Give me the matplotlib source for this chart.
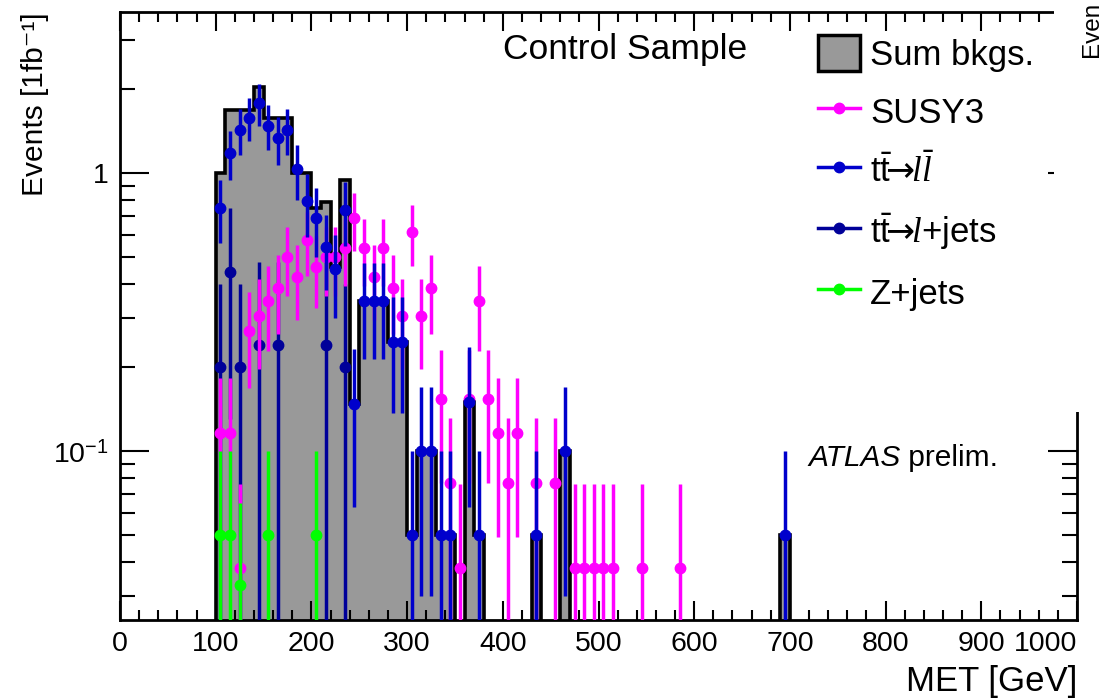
import numpy as np
import matplotlib
matplotlib.use('Agg')
from matplotlib import pyplot as plt
from matplotlib.patches import Patch, Rectangle
from matplotlib.lines import Line2D
from matplotlib.ticker import MultipleLocator, FixedLocator, NullFormatter, FixedFormatter

plt.rcParams['font.family'] = ['Liberation Sans', 'DejaVu Sans']
plt.rcParams['mathtext.fontset'] = 'custom'
plt.rcParams['mathtext.rm'] = 'Liberation Sans'
plt.rcParams['mathtext.it'] = 'Liberation Serif:italic'
plt.rcParams['mathtext.sf'] = 'DejaVu Sans'

# Sum of backgrounds, 10 GeV bins, edges 100 ... 710
bkg_edges = [100, 110, 120, 130, 140, 150, 160, 170, 180, 190, 200, 210, 220, 230, 240,
             250, 260, 270, 280, 290, 300, 310, 320, 330, 340, 350, 360, 370, 380, 390,
             400, 410, 420, 430, 440, 450, 460, 470, 480, 490, 500, 510, 520, 530, 540,
             550, 560, 570, 580, 590, 600, 610, 620, 630, 640, 650, 660, 670, 680, 690,
             700, 710]
bkg_sum = [1.0, 1.69, 1.69, 1.69, 2.04, 1.57, 1.57, 1.57, 1.0, 1.0, 0.75, 0.785, 0.46, 0.94,
           0.148, 0.345, 0.345, 0.345, 0.247, 0.247, 0.05, 0.1, 0.1, 0.05, 0.05, 0, 0.15,
           0.05, 0, 0, 0, 0, 0, 0.05, 0, 0, 0.1, 0, 0, 0, 0, 0, 0, 0, 0, 0, 0, 0, 0, 0,
           0, 0, 0, 0, 0, 0, 0, 0, 0, 0.05, 0]

# SUSY3
susy_met = [105, 115, 125, 135, 145, 155, 165, 175, 185, 195, 205, 215, 225, 235, 245, 255,
            265, 275, 285, 295, 305, 315, 325, 335, 345, 355, 365, 375, 385, 395, 405, 415,
            435, 455, 475, 485, 495, 505, 515, 545, 585]
susy_val = [0.116, 0.116, 0.038, 0.27, 0.306, 0.345, 0.385, 0.5, 0.424, 0.574, 0.46, 0.5,
            0.5, 0.536, 0.687, 0.536, 0.424, 0.536, 0.385, 0.306, 0.615, 0.306, 0.385, 0.154,
            0.077, 0.038, 0.154, 0.345, 0.154, 0.116, 0.077, 0.116, 0.077, 0.077, 0.038,
            0.038, 0.038, 0.038, 0.038, 0.038, 0.038]
susy_err = [0.067, 0.067, 0.038, 0.102, 0.109, 0.116, 0.122, 0.139, 0.128, 0.149, 0.133,
            0.139, 0.139, 0.144, 0.163, 0.144, 0.128, 0.144, 0.122, 0.109, 0.154, 0.109,
            0.122, 0.077, 0.054, 0.038, 0.077, 0.116, 0.077, 0.067, 0.054, 0.067, 0.054,
            0.054, 0.038, 0.038, 0.038, 0.038, 0.038, 0.038, 0.038]

# ttbar -> dilepton
ll_met = [105, 115, 125, 135, 145, 155, 165, 175, 185, 195, 205, 215, 225, 235, 245, 255,
          265, 275, 285, 295, 305, 315, 325, 335, 345, 365, 375, 435, 465, 695]
ll_val = [0.75, 1.18, 1.43, 1.58, 1.78, 1.48, 1.33, 1.43, 1.03, 0.79, 0.69, 0.543, 0.45,
          0.736, 0.148, 0.345, 0.345, 0.345, 0.247, 0.247, 0.05, 0.1, 0.1, 0.05, 0.05,
          0.15, 0.05, 0.05, 0.1, 0.05]
ll_err = [0.19, 0.24, 0.27, 0.28, 0.3, 0.27, 0.26, 0.27, 0.23, 0.2, 0.19, 0.165, 0.15,
          0.19, 0.085, 0.13, 0.13, 0.13, 0.11, 0.11, 0.05, 0.07, 0.07, 0.05, 0.05, 0.087,
          0.05, 0.05, 0.07, 0.05]

# ttbar -> lepton + jets
lj_met = [105, 115, 125, 145, 165, 215, 235]
lj_val = [0.2, 0.44, 0.2, 0.24, 0.24, 0.24, 0.2]
lj_err = [0.2, 0.31, 0.2, 0.24, 0.24, 0.24, 0.2]

# Z + jets
z_met = [105, 115, 125, 155, 205]
z_val = [0.05, 0.05, 0.033, 0.05, 0.05]
z_err = [0.05, 0.05, 0.032, 0.05, 0.05]

c_susy = '#ff00ff'
c_ll = '#0000cc'
c_lj = '#000099'
c_z = '#00ff00'

W, H = 1119, 700
fig = plt.figure(figsize=(W / 100, H / 100), dpi=100)
ax = fig.add_axes([120 / W, 1 - 620 / H, 957 / W, 608 / H])
ax.set_yscale('log')
ax.set_xlim(0, 1000)
ax.set_ylim(0.02466, 3.79)

floor = 1e-4
vals = np.where(np.array(bkg_sum) > 0, bkg_sum, floor)
ax.stairs(vals, bkg_edges, baseline=floor, fill=True, color='#999999', zorder=1)
ax.stairs(vals, bkg_edges, baseline=floor, color='black', lw=2.6, zorder=2)

ms = 7.5
elw = 2.5
ax.errorbar(lj_met, lj_val, yerr=lj_err, fmt='o', color=c_lj, ms=ms, elinewidth=elw, capsize=0, zorder=3)
ax.errorbar(susy_met, susy_val, yerr=susy_err, fmt='o', color=c_susy, ms=ms, elinewidth=elw, capsize=0, zorder=4)
ax.errorbar(ll_met, ll_val, yerr=ll_err, fmt='o', color=c_ll, ms=ms, elinewidth=elw, capsize=0, zorder=5)
ax.errorbar(z_met, z_val, yerr=z_err, fmt='o', color=c_z, ms=ms, elinewidth=elw, capsize=0, zorder=6)

# ROOT-like axes
for s in ax.spines.values():
    s.set_linewidth(2)
ax.xaxis.set_major_locator(MultipleLocator(100))
ax.xaxis.set_minor_locator(MultipleLocator(20))
ax.yaxis.set_major_locator(FixedLocator([0.1, 1]))
ax.yaxis.set_major_formatter(FixedFormatter(['10$^{\\mathregular{-1}}$', '1']))
minor_y = [k * 0.01 for k in range(3, 10)] + [k * 0.1 for k in range(2, 10)] + [2, 3]
ax.yaxis.set_minor_locator(FixedLocator(minor_y))
ax.yaxis.set_minor_formatter(NullFormatter())
ax.tick_params(which='both', direction='in', top=True, right=True, width=1.5, labelsize=20.5)
ax.tick_params(axis='x', which='major', length=14, pad=8)
ax.tick_params(axis='x', which='minor', length=7)
ax.tick_params(axis='y', which='major', length=21, pad=8)
ax.tick_params(axis='y', which='minor', length=11)

# last x label kept inside the frame, as ROOT drew it
fig.canvas.draw()
for tick in ax.xaxis.get_major_ticks():
    if abs(tick.get_loc() - 1000) < 1e-6:
        tick.label1.set_horizontalalignment('right')

fig.text(35 / W, 1 - 12 / H, 'Events [1fb\u207b\u00b9]', rotation=90, ha='center', va='top', fontsize=21.5)
fig.text(1077 / W, 1 - 682 / H, 'MET [GeV]', ha='right', va='center', fontsize=25)
fig.text(625 / W, 1 - 50 / H, 'Control Sample', ha='center', va='center', fontsize=25.5)
t1 = fig.text(808 / W, 1 - 458 / H, 'ATLAS', style='italic', ha='left', va='center', fontsize=21.5)
ax.annotate(' prelim.', xy=(1, 0), xycoords=t1, ha='left', va='bottom', fontsize=21.5)

handles = [
    Patch(facecolor='#999999', edgecolor='black', lw=2.5),
    Line2D([], [], color=c_susy, marker='o', ms=ms, lw=elw),
    Line2D([], [], color=c_ll, marker='o', ms=ms, lw=elw),
    Line2D([], [], color=c_lj, marker='o', ms=ms, lw=elw),
    Line2D([], [], color=c_z, marker='o', ms=ms, lw=elw),
]
labels = ['Sum bkgs.', 'SUSY3', r'$\mathrm{t\bar{t}}\!\!\mathsf{\rightarrow}\!\! l\bar{l}$',
          r'$\mathrm{t\bar{t}}\!\!\mathsf{\rightarrow}\!\! l$+jets', 'Z+jets']
fig.legend(handles, labels, loc='upper left', bbox_to_anchor=(818 / W, 1 - 35 / H),
           frameon=False, fontsize=25, handlelength=1.2, handleheight=1.2,
           handletextpad=0.3, labelspacing=0.64, borderpad=0, borderaxespad=0)

# neighbouring pad overlapping the right edge
fig.add_artist(Rectangle((1054 / W, 1 - 412 / H), (W - 1054) / W, 412 / H,
                         transform=fig.transFigure, facecolor='white', edgecolor='none', zorder=20))
fig.text(1092 / W, 1 - 57 / H, 'Even', rotation=90, ha='center', va='bottom',
         fontsize=17.5, zorder=21)

fig.savefig('out.png', dpi=100)
